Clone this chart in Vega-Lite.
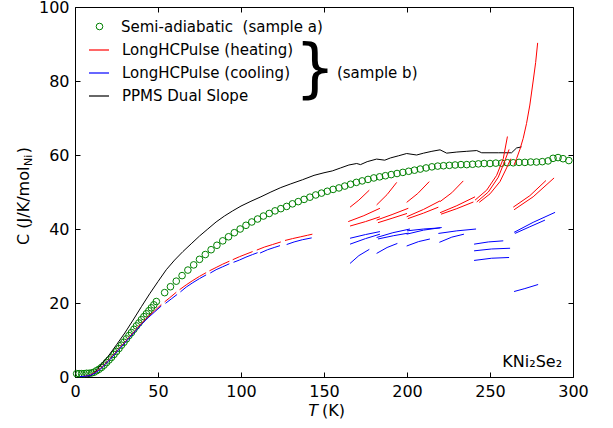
{
  "$schema": "https://vega.github.io/schema/vega-lite/v6.json",
  "width": 498,
  "height": 370,
  "autosize": {"type": "none"},
  "padding": {"left": 75, "top": 7, "right": 40, "bottom": 51},
  "background": "white",
  "config": {
    "font": "DejaVu Sans",
    "view": {"stroke": "black", "strokeWidth": 1},
    "axis": {"domain": false, "grid": false, "ticks": true, "tickColor": "black", "tickSize": -5, "tickWidth": 1, "labelFont": "DejaVu Sans", "labelFontSize": 16, "labelColor": "black", "labelPadding": 11, "labelFlush": false, "labelOverlap": false},
    "legend": {"padding": 0, "labelFont": "DejaVu Sans", "labelFontSize": 15, "labelColor": "black", "labelLimit": 400, "titleFontSize": 0}
  },
  "datasets": {
    "semi": [
      {"T":1,"C":0.9},{"T":2.5,"C":0.9},{"T":4,"C":0.9},{"T":5.5,"C":0.9},{"T":7,"C":1.0},{"T":8.5,"C":1.0},{"T":10,"C":1.1},{"T":11.5,"C":1.3},{"T":13,"C":1.7},{"T":14.5,"C":2.1},{"T":16,"C":2.6},{"T":17.5,"C":3.2},{"T":19,"C":3.9},{"T":20.5,"C":4.6},{"T":22,"C":5.3},{"T":23.5,"C":6.1},{"T":25,"C":6.9},{"T":26.5,"C":7.7},{"T":28,"C":8.6},{"T":29.5,"C":9.4},{"T":31,"C":10.3},{"T":32.5,"C":11.2},{"T":34,"C":12.0},{"T":35.5,"C":12.9},{"T":37,"C":13.8},{"T":38.5,"C":14.6},{"T":40,"C":15.5},{"T":41.5,"C":16.3},{"T":43,"C":17.1},{"T":44.5,"C":17.9},{"T":46,"C":18.7},{"T":47.5,"C":19.5},{"T":49,"C":20.4},
      {"T":54,"C":22.8},{"T":57.5,"C":24.4},{"T":61,"C":25.9},{"T":64.5,"C":27.4},{"T":68,"C":28.9},{"T":71.5,"C":30.3},{"T":75,"C":31.8},{"T":78.5,"C":33.1},{"T":82,"C":34.4},{"T":85.5,"C":35.6},{"T":89,"C":36.8},{"T":92.5,"C":37.9},{"T":96,"C":39.0},{"T":99.5,"C":40.0},{"T":103,"C":41.0},{"T":106.5,"C":41.9},{"T":110,"C":42.7},{"T":113.5,"C":43.5},{"T":117,"C":44.2},{"T":120.5,"C":44.9},{"T":124,"C":45.5},{"T":127.5,"C":46.1},{"T":131,"C":46.8},{"T":134.5,"C":47.4},{"T":138,"C":48.0},{"T":141.5,"C":48.6},{"T":145,"C":49.2},{"T":148.5,"C":49.7},{"T":152,"C":50.2},{"T":155.5,"C":50.7},{"T":159,"C":51.1},{"T":162.5,"C":51.6},{"T":166,"C":52.1},{"T":169.5,"C":52.6},{"T":173,"C":53.0},{"T":176.5,"C":53.4},{"T":180,"C":53.8},{"T":183.5,"C":54.1},{"T":187,"C":54.4},{"T":190.5,"C":54.7},{"T":194,"C":55.0},{"T":197.5,"C":55.3},{"T":201,"C":55.6},{"T":204.5,"C":55.9},{"T":208,"C":56.2},{"T":211.5,"C":56.5},{"T":215,"C":56.8},{"T":218.5,"C":57.0},{"T":222,"C":57.1},{"T":225.5,"C":57.2},{"T":229,"C":57.3},{"T":232.5,"C":57.4},{"T":236,"C":57.4},{"T":239.5,"C":57.5},{"T":243,"C":57.6},{"T":246.5,"C":57.7},{"T":250,"C":57.7},{"T":253.5,"C":57.8},{"T":257,"C":57.8},{"T":260.5,"C":57.9},{"T":264,"C":57.9},{"T":267.5,"C":58.0},{"T":271,"C":58.0},{"T":274.5,"C":58.1},{"T":278,"C":58.1},{"T":281.5,"C":58.2},{"T":285,"C":58.4},{"T":288,"C":59.1},{"T":291,"C":59.3},{"T":294,"C":59.0},{"T":297.5,"C":58.5}
    ],
    "lines": [
      {"s":"p","g":"p","T":8,"C":0.2},{"s":"p","g":"p","T":10,"C":0.5},{"s":"p","g":"p","T":12,"C":1.3},{"s":"p","g":"p","T":14,"C":2.4},{"s":"p","g":"p","T":16,"C":3.5},{"s":"p","g":"p","T":18,"C":4.6},{"s":"p","g":"p","T":20,"C":5.6},{"s":"p","g":"p","T":25,"C":8.7},{"s":"p","g":"p","T":30,"C":11.9},{"s":"p","g":"p","T":35,"C":15.4},{"s":"p","g":"p","T":40,"C":19.0},{"s":"p","g":"p","T":45,"C":22.5},{"s":"p","g":"p","T":50,"C":25.8},{"s":"p","g":"p","T":55,"C":29.0},{"s":"p","g":"p","T":60,"C":31.6},{"s":"p","g":"p","T":65,"C":33.9},{"s":"p","g":"p","T":70,"C":36.0},{"s":"p","g":"p","T":75,"C":38.1},{"s":"p","g":"p","T":80,"C":40.0},{"s":"p","g":"p","T":85,"C":41.9},{"s":"p","g":"p","T":90,"C":43.5},{"s":"p","g":"p","T":95,"C":44.9},{"s":"p","g":"p","T":100,"C":46.2},{"s":"p","g":"p","T":106,"C":47.5},{"s":"p","g":"p","T":112,"C":48.7},{"s":"p","g":"p","T":118,"C":50.0},{"s":"p","g":"p","T":124,"C":51.2},{"s":"p","g":"p","T":130,"C":52.2},{"s":"p","g":"p","T":137,"C":53.3},{"s":"p","g":"p","T":144,"C":54.5},{"s":"p","g":"p","T":150,"C":55.2},{"s":"p","g":"p","T":155,"C":55.7},{"s":"p","g":"p","T":160,"C":56.5},{"s":"p","g":"p","T":165,"C":57.3},{"s":"p","g":"p","T":169.7,"C":57.7},{"s":"p","g":"p","T":172,"C":57.4},{"s":"p","g":"p","T":176,"C":58.2},{"s":"p","g":"p","T":181.7,"C":58.9},{"s":"p","g":"p","T":186.6,"C":58.6},{"s":"p","g":"p","T":190,"C":59.2},{"s":"p","g":"p","T":195,"C":59.8},{"s":"p","g":"p","T":199.8,"C":60.4},{"s":"p","g":"p","T":205.8,"C":60.0},{"s":"p","g":"p","T":210,"C":60.5},{"s":"p","g":"p","T":215,"C":61.0},{"s":"p","g":"p","T":219.9,"C":61.4},{"s":"p","g":"p","T":223.9,"C":60.5},{"s":"p","g":"p","T":230,"C":60.8},{"s":"p","g":"p","T":236,"C":61.0},{"s":"p","g":"p","T":242,"C":61.2},{"s":"p","g":"p","T":245,"C":60.6},{"s":"p","g":"p","T":255,"C":60.6},{"s":"p","g":"p","T":263,"C":60.6},{"s":"p","g":"p","T":266,"C":61.9},{"s":"p","g":"p","T":269,"C":62.2},

      {"s":"h","g":"r0","T":3,"C":0.1},{"s":"h","g":"r0","T":6,"C":0.2},{"s":"h","g":"r0","T":9,"C":0.5},{"s":"h","g":"r0","T":12,"C":1.2},{"s":"h","g":"r0","T":15,"C":2.2},{"s":"h","g":"r0","T":18,"C":3.5},{"s":"h","g":"r0","T":21,"C":4.9},{"s":"h","g":"r0","T":24,"C":6.4},{"s":"h","g":"r0","T":27,"C":7.9},{"s":"h","g":"r0","T":30,"C":9.4},{"s":"h","g":"r0","T":33,"C":10.9},{"s":"h","g":"r0","T":36,"C":12.4},{"s":"h","g":"r0","T":40,"C":14.5},{"s":"h","g":"r0","T":44,"C":16.3},{"s":"h","g":"r0","T":48,"C":17.9},{"s":"h","g":"r0","T":52,"C":19.6},
      {"s":"h","g":"r1","T":54,"C":20.3},{"s":"h","g":"r1","T":57,"C":21.4},{"s":"h","g":"r1","T":61,"C":22.9},
      {"s":"h","g":"r2","T":63,"C":23.6},{"s":"h","g":"r2","T":67,"C":24.9},{"s":"h","g":"r2","T":71,"C":26.1},{"s":"h","g":"r2","T":75,"C":27.2},{"s":"h","g":"r2","T":79,"C":28.2},
      {"s":"h","g":"r3","T":81,"C":28.7},{"s":"h","g":"r3","T":85,"C":29.6},{"s":"h","g":"r3","T":89,"C":30.5},{"s":"h","g":"r3","T":93,"C":31.3},
      {"s":"h","g":"r4","T":95,"C":31.7},{"s":"h","g":"r4","T":99,"C":32.5},{"s":"h","g":"r4","T":103,"C":33.2},{"s":"h","g":"r4","T":107,"C":33.9},
      {"s":"h","g":"r5","T":109.5,"C":34.3},{"s":"h","g":"r5","T":114,"C":35.1},{"s":"h","g":"r5","T":119,"C":35.8},{"s":"h","g":"r5","T":124,"C":36.5},
      {"s":"h","g":"r6","T":126.5,"C":36.9},{"s":"h","g":"r6","T":131,"C":37.4},{"s":"h","g":"r6","T":136,"C":37.9},{"s":"h","g":"r6","T":140,"C":38.3},{"s":"h","g":"r6","T":143,"C":38.6},

      {"s":"h","g":"h1a","T":165.7,"C":45.9},{"s":"h","g":"h1a","T":171,"C":47.8},{"s":"h","g":"h1a","T":177.3,"C":50.5},
      {"s":"h","g":"h1b","T":164.6,"C":42.0},{"s":"h","g":"h1b","T":174,"C":43.6},{"s":"h","g":"h1b","T":183.7,"C":45.6},
      {"s":"h","g":"h1c","T":165.7,"C":40.8},{"s":"h","g":"h1c","T":175,"C":42.0},{"s":"h","g":"h1c","T":183.7,"C":43.3},
      {"s":"h","g":"h2a","T":181.7,"C":46.5},{"s":"h","g":"h2a","T":188,"C":49.3},{"s":"h","g":"h2a","T":193.8,"C":52.6},
      {"s":"h","g":"h2b","T":181.7,"C":42.4},{"s":"h","g":"h2b","T":191,"C":43.9},{"s":"h","g":"h2b","T":200.8,"C":45.6},
      {"s":"h","g":"h2c","T":182.5,"C":41.7},{"s":"h","g":"h2c","T":191,"C":42.9},{"s":"h","g":"h2c","T":200,"C":44.2},
      {"s":"h","g":"h3a","T":199.8,"C":47.2},{"s":"h","g":"h3a","T":206.5,"C":49.6},{"s":"h","g":"h3a","T":213.4,"C":52.8},
      {"s":"h","g":"h3b","T":199.8,"C":43.3},{"s":"h","g":"h3b","T":210,"C":45.3},{"s":"h","g":"h3b","T":219.9,"C":47.6},
      {"s":"h","g":"h3c","T":200.5,"C":42.8},{"s":"h","g":"h3c","T":210,"C":44.3},{"s":"h","g":"h3c","T":218.9,"C":45.9},
      {"s":"h","g":"h4a","T":219.9,"C":47.4},{"s":"h","g":"h4a","T":227,"C":49.8},{"s":"h","g":"h4a","T":233.9,"C":53.0},
      {"s":"h","g":"h4b","T":219.9,"C":44.4},{"s":"h","g":"h4b","T":230,"C":46.3},{"s":"h","g":"h4b","T":241,"C":48.7},
      {"s":"h","g":"h4c","T":220.5,"C":44.0},{"s":"h","g":"h4c","T":230,"C":45.5},{"s":"h","g":"h4c","T":240,"C":47.3},
      {"s":"h","g":"s1","T":241,"C":47.8},{"s":"h","g":"s1","T":248,"C":50.5},{"s":"h","g":"s1","T":254,"C":54.5},{"s":"h","g":"s1","T":258,"C":59},{"s":"h","g":"s1","T":260.5,"C":65},
      {"s":"h","g":"s2","T":242,"C":47.3},{"s":"h","g":"s2","T":249,"C":50},{"s":"h","g":"s2","T":255,"C":54},{"s":"h","g":"s2","T":259,"C":58.5},{"s":"h","g":"s2","T":261.5,"C":61.5},
      {"s":"h","g":"s3","T":243.5,"C":47.2},{"s":"h","g":"s3","T":250,"C":49.5},{"s":"h","g":"s3","T":256,"C":52.8},{"s":"h","g":"s3","T":260,"C":56.5},{"s":"h","g":"s3","T":262.5,"C":59},
      {"s":"h","g":"big","T":264.5,"C":57.3},{"s":"h","g":"big","T":266,"C":59},{"s":"h","g":"big","T":268,"C":61.5},{"s":"h","g":"big","T":270,"C":64.5},{"s":"h","g":"big","T":272,"C":68.5},{"s":"h","g":"big","T":274,"C":73.5},{"s":"h","g":"big","T":276,"C":80},{"s":"h","g":"big","T":277.5,"C":85},{"s":"h","g":"big","T":278.7,"C":90.3},
      {"s":"h","g":"h6a","T":264,"C":45.9},{"s":"h","g":"h6a","T":274,"C":49},{"s":"h","g":"h6a","T":283.7,"C":53.1},
      {"s":"h","g":"h6b","T":264.5,"C":45.2},{"s":"h","g":"h6b","T":276,"C":48.7},{"s":"h","g":"h6b","T":288.6,"C":53.8},

      {"s":"c","g":"b0","T":3,"C":0.1},{"s":"c","g":"b0","T":6,"C":0.2},{"s":"c","g":"b0","T":9,"C":0.4},{"s":"c","g":"b0","T":12,"C":1.0},{"s":"c","g":"b0","T":15,"C":2.0},{"s":"c","g":"b0","T":18,"C":3.3},{"s":"c","g":"b0","T":21,"C":4.7},{"s":"c","g":"b0","T":24,"C":6.2},{"s":"c","g":"b0","T":27,"C":7.7},{"s":"c","g":"b0","T":30,"C":9.2},{"s":"c","g":"b0","T":33,"C":10.7},{"s":"c","g":"b0","T":36,"C":12.2},{"s":"c","g":"b0","T":40,"C":14.2},{"s":"c","g":"b0","T":44,"C":16.0},{"s":"c","g":"b0","T":48,"C":17.6},{"s":"c","g":"b0","T":52,"C":19.2},
      {"s":"c","g":"b1","T":54.5,"C":19.9},{"s":"c","g":"b1","T":58,"C":21.1},{"s":"c","g":"b1","T":61.5,"C":22.3},
      {"s":"c","g":"b2","T":63.5,"C":23.0},{"s":"c","g":"b2","T":67,"C":24.3},{"s":"c","g":"b2","T":71,"C":25.5},{"s":"c","g":"b2","T":75,"C":26.6},{"s":"c","g":"b2","T":79,"C":27.6},
      {"s":"c","g":"b3","T":81.5,"C":28.1},{"s":"c","g":"b3","T":85,"C":29.0},{"s":"c","g":"b3","T":89,"C":29.8},{"s":"c","g":"b3","T":93,"C":30.6},
      {"s":"c","g":"b4","T":95.5,"C":31.0},{"s":"c","g":"b4","T":99,"C":31.6},{"s":"c","g":"b4","T":103,"C":32.4},{"s":"c","g":"b4","T":107,"C":33.1},{"s":"c","g":"b4","T":110,"C":33.6},
      {"s":"c","g":"b5","T":111.5,"C":33.5},{"s":"c","g":"b5","T":116,"C":34.4},{"s":"c","g":"b5","T":120,"C":35.0},{"s":"c","g":"b5","T":123.5,"C":35.5},
      {"s":"c","g":"b6","T":127.5,"C":35.8},{"s":"c","g":"b6","T":132,"C":36.5},{"s":"c","g":"b6","T":137,"C":37.1},{"s":"c","g":"b6","T":142.6,"C":37.6},

      {"s":"c","g":"c1a","T":165.7,"C":30.7},{"s":"c","g":"c1a","T":171,"C":32.8},{"s":"c","g":"c1a","T":177.3,"C":34.5},
      {"s":"c","g":"c1b","T":165.7,"C":35.9},{"s":"c","g":"c1b","T":175,"C":37.4},{"s":"c","g":"c1b","T":183.7,"C":38.6},
      {"s":"c","g":"c1c","T":165.7,"C":37.5},{"s":"c","g":"c1c","T":175,"C":38.5},{"s":"c","g":"c1c","T":183.7,"C":39.3},
      {"s":"c","g":"c2a","T":181.7,"C":33.4},{"s":"c","g":"c2a","T":188,"C":35.0},{"s":"c","g":"c2a","T":194.2,"C":36.1},
      {"s":"c","g":"c2b","T":181.7,"C":37.7},{"s":"c","g":"c2b","T":191.5,"C":39.0},{"s":"c","g":"c2b","T":201.8,"C":40.0},
      {"s":"c","g":"c2c","T":182.5,"C":37.3},{"s":"c","g":"c2c","T":192,"C":38.2},{"s":"c","g":"c2c","T":201,"C":38.9},
      {"s":"c","g":"c3a","T":199.8,"C":35.4},{"s":"c","g":"c3a","T":207,"C":36.6},{"s":"c","g":"c3a","T":213.8,"C":37.3},
      {"s":"c","g":"c3b","T":199.8,"C":38.6},{"s":"c","g":"c3b","T":210,"C":39.7},{"s":"c","g":"c3b","T":220.9,"C":40.4},
      {"s":"c","g":"c3c","T":200,"C":39.5},{"s":"c","g":"c3c","T":210,"C":40.0},{"s":"c","g":"c3c","T":220,"C":40.3},
      {"s":"c","g":"c4a","T":219.5,"C":36.4},{"s":"c","g":"c4a","T":227,"C":37.8},{"s":"c","g":"c4a","T":234.3,"C":38.6},
      {"s":"c","g":"c4b","T":218.9,"C":38.8},{"s":"c","g":"c4b","T":230,"C":39.5},{"s":"c","g":"c4b","T":241.6,"C":40.0},
      {"s":"c","g":"c5a","T":240.4,"C":35.9},{"s":"c","g":"c5a","T":249,"C":36.5},{"s":"c","g":"c5a","T":258,"C":36.8},
      {"s":"c","g":"c5b","T":240.4,"C":34.1},{"s":"c","g":"c5b","T":251,"C":34.6},{"s":"c","g":"c5b","T":262.1,"C":34.8},
      {"s":"c","g":"c5c","T":240.4,"C":31.5},{"s":"c","g":"c5c","T":251,"C":32.1},{"s":"c","g":"c5c","T":261.5,"C":32.3},
      {"s":"c","g":"c6a","T":264.5,"C":23.1},{"s":"c","g":"c6a","T":271,"C":23.9},{"s":"c","g":"c6a","T":279,"C":25.0},
      {"s":"c","g":"c6b","T":264.5,"C":39.1},{"s":"c","g":"c6b","T":276,"C":41.8},{"s":"c","g":"c6b","T":289.2,"C":44.5},
      {"s":"c","g":"c6c","T":265,"C":38.8},{"s":"c","g":"c6c","T":274,"C":40.6},{"s":"c","g":"c6c","T":283.1,"C":42.4}
    ]
  },
  "layer": [
    {
      "data": {"name": "semi"},
      "transform": [{"calculate": "'Semi-adiabatic\u00a0 (sample a)'", "as": "series"}],
      "mark": {"type": "point", "filled": false, "strokeWidth": 1, "size": 44, "opacity": 1},
      "encoding": {
        "x": {"field": "T", "type": "quantitative", "scale": {"domain": [0, 300], "nice": false}, "axis": {"orient": "top", "labels": false, "title": null, "values": [0, 50, 100, 150, 200, 250, 300]}},
        "y": {"field": "C", "type": "quantitative", "scale": {"domain": [0, 100], "nice": false}, "axis": {"orient": "right", "labels": false, "title": null, "values": [0, 20, 40, 60, 80, 100]}},
        "stroke": {"field": "series", "type": "nominal", "scale": {"range": ["#008000"]}, "legend": {"orient": "none", "legendX": 17, "legendY": 12, "title": null, "symbolSize": 44, "symbolStrokeWidth": 1, "labelOffset": 14}}
      }
    },
    {
      "data": {"name": "lines"},
      "mark": {"type": "line", "strokeWidth": 1},
      "encoding": {
        "x": {"field": "T", "type": "quantitative", "scale": {"domain": [0, 300], "nice": false}, "axis": {"orient": "bottom", "title": null, "values": [0, 50, 100, 150, 200, 250, 300]}},
        "y": {"field": "C", "type": "quantitative", "scale": {"domain": [0, 100], "nice": false}, "axis": {"orient": "left", "title": null, "values": [0, 20, 40, 60, 80, 100]}},
        "color": {"field": "s", "type": "nominal", "scale": {"domain": ["h", "c", "p"], "range": ["#ff0000", "#0000ff", "#000000"]}, "legend": {"orient": "none", "legendX": 13, "legendY": 32, "title": null, "symbolType": "stroke", "symbolSize": 400, "symbolStrokeWidth": 1.2, "labelOffset": 12, "rowPadding": 4, "labelExpr": "datum.label == 'h' ? 'LongHCPulse (heating)' : datum.label == 'c' ? 'LongHCPulse (cooling)' : 'PPMS Dual Slope'"}},
        "detail": {"field": "g", "type": "nominal"}
      }
    },
    {
      "data": {"values": [{}]},
      "mark": {"type": "text", "text": "KNi₂Se₂", "fontSize": 16, "align": "right", "baseline": "alphabetic", "color": "black"},
      "encoding": {
        "x": {"datum": 293.4, "type": "quantitative", "scale": {"domain": [0, 300], "nice": false}, "axis": null},
        "y": {"datum": 2.8, "type": "quantitative", "scale": {"domain": [0, 100], "nice": false}, "axis": null}
      }
    },
    {
      "data": {"values": [{}]},
      "mark": {"type": "text", "text": "}", "fontSize": 64, "align": "center", "baseline": "middle", "color": "black"},
      "encoding": {
        "x": {"datum": 144.6, "type": "quantitative", "scale": {"domain": [0, 300], "nice": false}, "axis": null},
        "y": {"datum": 82.7, "type": "quantitative", "scale": {"domain": [0, 100], "nice": false}, "axis": null}
      }
    },
    {
      "data": {"values": [{}]},
      "mark": {"type": "text", "text": "(sample b)", "fontSize": 15, "align": "left", "baseline": "middle", "color": "black"},
      "encoding": {
        "x": {"datum": 157.8, "type": "quantitative", "scale": {"domain": [0, 300], "nice": false}, "axis": null},
        "y": {"datum": 82.2, "type": "quantitative", "scale": {"domain": [0, 100], "nice": false}, "axis": null}
      }
    },
    {
      "data": {"values": [{}]},
      "mark": {"type": "text", "text": "C (J/K/mol", "fontSize": 16, "align": "left", "baseline": "alphabetic", "angle": 270, "color": "black"},
      "encoding": {
        "x": {"datum": -28.0, "type": "quantitative", "scale": {"domain": [0, 300], "nice": false}, "axis": null},
        "y": {"datum": 35.7, "type": "quantitative", "scale": {"domain": [0, 100], "nice": false}, "axis": null}
      }
    },
    {
      "data": {"values": [{}]},
      "mark": {"type": "text", "text": "Ni", "fontSize": 11, "align": "left", "baseline": "alphabetic", "angle": 270, "color": "black"},
      "encoding": {
        "x": {"datum": -25.9, "type": "quantitative", "scale": {"domain": [0, 300], "nice": false}, "axis": null},
        "y": {"datum": 57.0, "type": "quantitative", "scale": {"domain": [0, 100], "nice": false}, "axis": null}
      }
    },
    {
      "data": {"values": [{}]},
      "mark": {"type": "text", "text": ")", "fontSize": 16, "align": "left", "baseline": "alphabetic", "angle": 270, "color": "black"},
      "encoding": {
        "x": {"datum": -28.0, "type": "quantitative", "scale": {"domain": [0, 300], "nice": false}, "axis": null},
        "y": {"datum": 60.5, "type": "quantitative", "scale": {"domain": [0, 100], "nice": false}, "axis": null}
      }
    },
    {
      "data": {"values": [{}]},
      "mark": {"type": "text", "text": "T", "fontSize": 16, "fontStyle": "italic", "align": "right", "baseline": "alphabetic", "color": "black"},
      "encoding": {
        "x": {"datum": 146.4, "type": "quantitative", "scale": {"domain": [0, 300], "nice": false}, "axis": null},
        "y": {"datum": -10.5, "type": "quantitative", "scale": {"domain": [0, 100], "nice": false}, "axis": null}
      }
    },
    {
      "data": {"values": [{}]},
      "mark": {"type": "text", "text": "(K)", "fontSize": 16, "align": "left", "baseline": "alphabetic", "color": "black"},
      "encoding": {
        "x": {"datum": 148.8, "type": "quantitative", "scale": {"domain": [0, 300], "nice": false}, "axis": null},
        "y": {"datum": -10.5, "type": "quantitative", "scale": {"domain": [0, 100], "nice": false}, "axis": null}
      }
    }
  ],
  "resolve": {"axis": {"x": "independent", "y": "independent"}}
}
